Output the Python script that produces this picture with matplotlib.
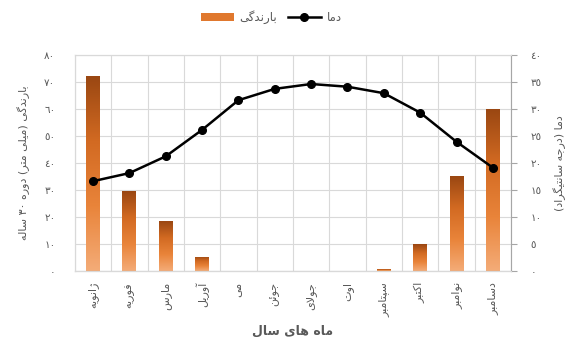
import numpy as np
import matplotlib
matplotlib.use("Agg")
import matplotlib.pyplot as plt
from matplotlib.colors import LinearSegmentedColormap
from matplotlib.patches import Patch
from matplotlib.lines import Line2D

# ---- data ----
months = ["ژانویه", "فوریه", "مارس", "آوریل", "می", "جوئن",
          "جولای", "اوت", "سپتامبر", "اکتبر", "نوامبر", "دسامبر"]
rainfall = [72, 29.5, 18.5, 5.2, 0, 0, 0, 0, 0.5, 10, 35, 60]
temperature = [16.6, 18.1, 21.2, 26.1, 31.6, 33.7, 34.6, 34.1, 32.9, 29.3, 23.9, 19.1]
rain_ticks = [0, 10, 20, 30, 40, 50, 60, 70, 80]
temp_ticks = [0, 5, 10, 15, 20, 25, 30, 35, 40]

label_rain = "بارندگی"
label_temp = "دما"
ylabel_left = "بارندگی (میلی متر) دوره ٣٠ ساله"
ylabel_right = "دما (درجه سانتیگراد)"
xlabel = "ماه های سال"

# ---- minimal Arabic-script shaping (presentation forms + RTL ordering) ----
FORMS = {
    "\u0627": ("\uFE8D", "\uFE8E", None, None),
    "\u0622": ("\uFE81", "\uFE82", None, None),
    "\u062F": ("\uFEA9", "\uFEAA", None, None),
    "\u0631": ("\uFEAD", "\uFEAE", None, None),
    "\u0698": ("\uFB8A", "\uFB8B", None, None),
    "\u0648": ("\uFEED", "\uFEEE", None, None),
    "\u0628": ("\uFE8F", "\uFE90", "\uFE91", "\uFE92"),
    "\u067E": ("\uFB56", "\uFB57", "\uFB58", "\uFB59"),
    "\u062A": ("\uFE95", "\uFE96", "\uFE97", "\uFE98"),
    "\u062C": ("\uFE9D", "\uFE9E", "\uFE9F", "\uFEA0"),
    "\u0633": ("\uFEB1", "\uFEB2", "\uFEB3", "\uFEB4"),
    "\u0641": ("\uFED1", "\uFED2", "\uFED3", "\uFED4"),
    "\u06A9": ("\uFB8E", "\uFB8F", "\uFB90", "\uFB91"),
    "\u06AF": ("\uFB92", "\uFB93", "\uFB94", "\uFB95"),
    "\u0644": ("\uFEDD", "\uFEDE", "\uFEDF", "\uFEE0"),
    "\u0645": ("\uFEE1", "\uFEE2", "\uFEE3", "\uFEE4"),
    "\u0646": ("\uFEE5", "\uFEE6", "\uFEE7", "\uFEE8"),
    "\u0647": ("\uFEE9", "\uFEEA", "\uFEEB", "\uFEEC"),
    "\u06CC": ("\uFBFC", "\uFBFD", "\uFBFE", "\uFBFF"),
    "\u0626": ("\uFE89", "\uFE8A", "\uFE8B", "\uFE8C"),
}
MIRROR = {"(": ")", ")": "("}


def _dual(c):
    return c in FORMS and FORMS[c][2] is not None


def shape(s):
    out = []
    i, n = 0, len(s)
    while i < n:
        c = s[i]
        if c not in FORMS:
            out.append(MIRROR.get(c, c))
            i += 1
            continue
        pc = i > 0 and _dual(s[i - 1])
        if c == "\u0644" and i + 1 < n and s[i + 1] == "\u0627":
            out.append("\uFEFC" if pc else "\uFEFB")
            i += 2
            continue
        nxt = s[i + 1] if i + 1 < n else ""
        nc = _dual(c) and nxt in FORMS
        iso, fin, ini, med = FORMS[c]
        out.append(med if (pc and nc) else fin if pc else ini if nc else iso)
        i += 1
    vis = out[::-1]
    # digit runs keep left-to-right order
    res, run = [], []
    for ch in vis:
        if "\u0660" <= ch <= "\u0669":
            run.append(ch)
        else:
            res.extend(run[::-1])
            run = []
            res.append(ch)
    res.extend(run[::-1])
    return "".join(res)


def ar_digits(v):
    return "".join(chr(0x0660 + int(d)) for d in str(int(v)))


plt.rcParams["font.family"] = ["DejaVu Sans"]
TXT = "#595959"
GRID = "#D9D9D9"

fig = plt.figure(figsize=(5.71, 3.45), dpi=100)
ax = fig.add_axes([0.131, 0.215, 0.764, 0.626])
ax2 = ax.twinx()

x = np.arange(len(months))

# gradient bars
cmap = LinearSegmentedColormap.from_list(
    "rain", ["#F4AC78", "#E9843A", "#D26A22", "#9A4712"])
bars = ax.bar(x, rainfall, width=0.38, color="none", edgecolor="none", zorder=2)
grad = np.linspace(0, 1, 256).reshape(-1, 1)
for b in bars:
    h = b.get_height()
    if h <= 0:
        continue
    x0 = b.get_x()
    im = ax.imshow(grad, cmap=cmap, origin="lower", aspect="auto",
                   extent=(x0, x0 + b.get_width(), 0, h), zorder=2)
    im.set_clip_path(b)

ax.set_xlim(-0.5, len(months) - 0.5)
ax.set_ylim(0, 80)
ax.set_yticks(rain_ticks)
ax.set_yticklabels([ar_digits(v) for v in rain_ticks])
ax.set_xticks(x)
ax.set_xticklabels([shape(m) for m in months], rotation=90, fontsize=8, color=TXT)
ax.set_xticks(np.arange(-0.5, len(months), 1), minor=True)
ax.grid(True, which="minor", axis="x", color=GRID, lw=0.8, zorder=0)
ax.grid(True, which="major", axis="y", color=GRID, lw=0.8, zorder=0)
ax.set_axisbelow(True)
ax.tick_params(axis="x", which="both", length=0, pad=8)
ax.tick_params(axis="y", length=0, pad=14, labelsize=7.5, labelcolor=TXT)

# temperature line
ax2.plot(x, temperature, color="black", lw=1.8, marker="o", ms=5.5, zorder=3)
ax2.set_ylim(0, 40)
ax2.set_yticks(temp_ticks)
ax2.set_yticklabels([ar_digits(v) for v in temp_ticks])
ax2.tick_params(axis="y", length=4, color="#A6A6A6", pad=10, labelsize=7.5, labelcolor=TXT)

for a in (ax, ax2):
    for s in a.spines.values():
        s.set_color(GRID)
        s.set_linewidth(0.8)
ax2.spines["right"].set_color("#A6A6A6")
ax.spines["bottom"].set_color("#A6A6A6")

ax.set_ylabel(shape(ylabel_left), fontsize=8, color=TXT, labelpad=10)
ax2.set_ylabel(shape(ylabel_right), fontsize=8, color=TXT, rotation=90, labelpad=8)
ax.set_xlabel(shape(xlabel), fontsize=9, color=TXT, fontweight="bold", labelpad=6)

handles = [Patch(facecolor="#E0782E", edgecolor="none"),
           Line2D([0], [0], color="black", lw=1.8, marker="o", ms=5.5)]
fig.legend(handles, [shape(label_rain), shape(label_temp)], loc="center",
           bbox_to_anchor=(0.475, 0.95), ncol=2, frameon=False, fontsize=8.5,
           labelcolor=TXT, handlelength=2.8, handleheight=0.6, handletextpad=0.5,
           columnspacing=0.9)

fig.savefig("out.png", dpi=100)
